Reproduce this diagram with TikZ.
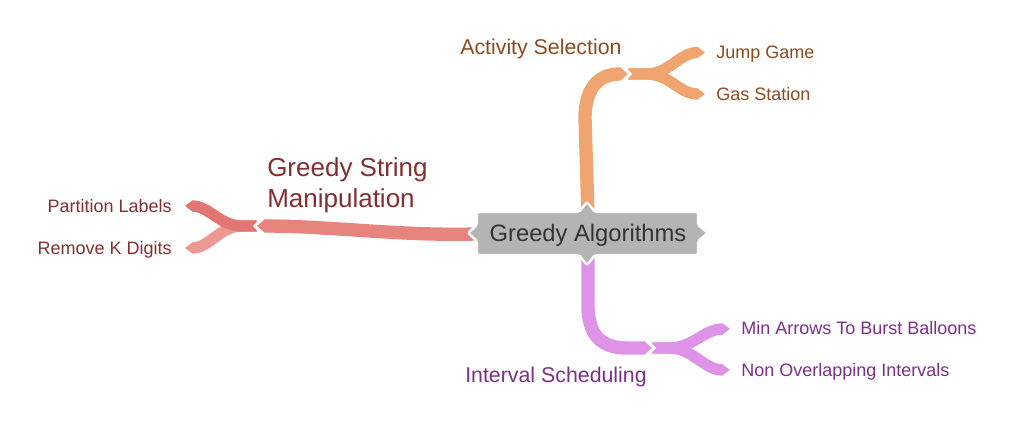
\documentclass[tikz,border=0pt]{standalone}
\usepackage{fontspec}
\setmainfont{Liberation Sans}
\usetikzlibrary{arrows.meta}
\definecolor{boxgray}{HTML}{B4B4B4}
\definecolor{roottxt}{HTML}{333333}
\definecolor{orbr}{HTML}{F0A571}
\definecolor{ortx}{HTML}{8C4A1F}
\definecolor{redbr}{HTML}{E8847E}
\definecolor{redup}{HTML}{E27672}
\definecolor{redlo}{HTML}{EE9893}
\definecolor{redtx}{HTML}{842F2F}
\definecolor{pubr}{HTML}{DF93E8}
\definecolor{putx}{HTML}{7B2F86}
\tikzset{
  tipped/.style={-{Triangle[width=0pt 1,length=6pt]}},
  mainbr/.style={tipped, line width=10pt},
  gapbr/.style={tipped, line width=12.5pt, draw=white},
  tine/.style={tipped, line width=8.5pt},
  subtext/.style={inner sep=0pt, font=\fontsize{16}{19}\selectfont},
  leaftext/.style={inner sep=0pt, font=\fontsize{13.5}{16}\selectfont},
}
\begin{document}
\begin{tikzpicture}[x=0.75pt,y=-0.75pt]
\useasboundingbox (0,0) rectangle (1014,428);
% named points
\coordinate (oStart) at (588,215);
\coordinate (oEnd) at (628,74);
\coordinate (oGap) at (632,74);
\coordinate (oFork) at (620,74);
\coordinate (oA) at (705,52.5);
\coordinate (oB) at (705,94);
\coordinate (rStart) at (475,234);
\coordinate (rEnd) at (257,226);
\coordinate (rGap) at (253,226);
\coordinate (rFork) at (266,226);
\coordinate (rA) at (185,206);
\coordinate (rB) at (185,248);
\coordinate (pStart) at (588,252);
\coordinate (pEnd) at (652,348);
\coordinate (pGap) at (656,348);
\coordinate (pFork) at (644,348);
\coordinate (pA) at (730,329);
\coordinate (pB) at (730,370);
% orange branch
\draw[tine, draw=orbr] (oFork) -- ++(26,0) .. controls +(24,0) and +(-26,0) .. (oA);
\draw[tine, draw=orbr] (oFork) -- ++(26,0) .. controls +(24,0) and +(-26,0) .. (oB);
\draw[gapbr] (oStart) -- (585,118) .. controls (585,90) and (597,74) .. (620,74) -- (oEnd) -- (oGap);
\draw[mainbr, draw=orbr] (oStart) -- (585,118) .. controls (585,90) and (597,74) .. (620,74) -- (oEnd);
% red branch
\draw[tine, draw=redlo] (rFork) -- ++(-24,0) .. controls +(-22,0) and +(24,0) .. (rB);
\draw[tine, draw=redup] (rFork) -- ++(-24,0) .. controls +(-22,0) and +(24,0) .. (rA);
\draw[gapbr] (rStart) .. controls (400,236) and (330,226) .. (rEnd) -- (rGap);
\draw[mainbr, draw=redbr] (rStart) .. controls (400,236) and (330,226) .. (rEnd);
% purple branch
\draw[tine, draw=pubr] (pFork) -- ++(25,0) .. controls +(24,0) and +(-26,0) .. (pA);
\draw[tine, draw=pubr] (pFork) -- ++(25,0) .. controls +(24,0) and +(-26,0) .. (pB);
\draw[gapbr] (pStart) -- (588,305) .. controls (588,334) and (600,348) .. (627,348) -- (pEnd) -- (pGap);
\draw[mainbr, draw=pubr] (pStart) -- (588,305) .. controls (588,334) and (600,348) .. (627,348) -- (pEnd);
% root box
\path[rounded corners=1.5pt, fill=boxgray, draw=white, line width=1.8pt]
  (477,225) -- (477,212) -- (579,212) -- (587,202) -- (595,212) -- (698,212)
  -- (698,225) -- (708,233) -- (698,241) -- (698,255) -- (595,255)
  -- (587,265) -- (579,255) -- (477,255) -- (477,241) -- (468,233) -- cycle;
\node[inner sep=0pt, text=roottxt, font=\fontsize{17.8}{21}\selectfont, anchor=base] (root) at (588,241) {Greedy Algorithms};
% labels
\node[subtext, text=ortx, anchor=base west] (act) at (460,55) {Activity Selection};
\node[leaftext, text=ortx, anchor=base west] (jump) at (716,58.5) {Jump Game};
\node[leaftext, text=ortx, anchor=base west] (gas) at (716,100) {Gas Station};
\node[inner sep=0pt, text=redtx, font=\fontsize{19.5}{23.25}\selectfont, anchor=base west] (gs1) at (267,176) {Greedy String};
\node[inner sep=0pt, text=redtx, font=\fontsize{19.5}{23.25}\selectfont, anchor=base west] (gs2) at (267,207) {Manipulation};
\node[leaftext, text=redtx, anchor=base east] (part) at (172,212.5) {Partition Labels};
\node[leaftext, text=redtx, anchor=base east] (remk) at (172,254.5) {Remove K Digits};
\node[subtext, text=putx, anchor=base west] (intv) at (465,382) {Interval Scheduling};
\node[leaftext, text=putx, anchor=base west] (minar) at (741,334) {Min Arrows To Burst Balloons};
\node[leaftext, text=putx, anchor=base west] (nonov) at (741,376) {Non Overlapping Intervals};
\end{tikzpicture}
\end{document}
